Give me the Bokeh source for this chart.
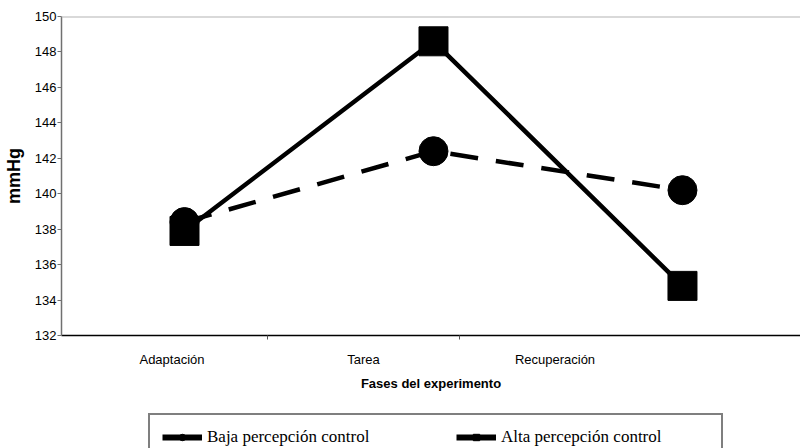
from bokeh.plotting import figure
from bokeh.layouts import column
from bokeh.models import Range1d, LinearAxis, FixedTicker, Legend, LegendItem, Span
from bokeh.embed import file_html
from bokeh.resources import INLINE

# ---- data ----
phases = ["Adaptación", "Tarea", "Recuperación"]
baja = [138.4, 142.4, 140.2]
alta = [137.9, 148.6, 134.8]
y_ticks = [132, 134, 136, 138, 140, 142, 144, 146, 148, 150]
series_labels = ["Baja percepción control", "Alta percepción control"]
x_title = "Fases del experimento"
y_title = "mmHg"

idx = list(range(len(phases)))

p = figure(width=800, height=410, output_backend="svg", toolbar_location=None,
           x_range=Range1d(-0.494, 2.474), y_range=Range1d(y_ticks[0], y_ticks[-1]),
           x_axis_location=None,
           min_border_left=61, min_border_right=0, min_border_top=16, min_border_bottom=75)
p.grid.visible = False
p.outline_line_color = None
p.background_fill_color = "white"
p.border_fill_color = "white"

# y axis
ya = p.yaxis[0]
ya.ticker = FixedTicker(ticks=y_ticks)
ya.axis_line_color = "#707070"
ya.axis_line_width = 1.5
ya.major_tick_out = 4
ya.major_tick_in = 0
ya.major_tick_line_color = "#707070"
ya.minor_tick_out = 0
ya.minor_tick_in = 0
ya.major_label_standoff = 1
ya.major_label_text_font = "Liberation Sans"
ya.major_label_text_font_size = "13px"
ya.major_label_text_color = "black"
ya.axis_label = y_title
ya.axis_label_text_font = "Liberation Sans"
ya.axis_label_text_font_style = "bold"
ya.axis_label_text_font_size = "18px"
ya.axis_label_text_color = "black"
ya.axis_label_standoff = 8

# top border line at max value
p.add_layout(Span(location=y_ticks[-1], dimension="width", line_color="#b4b4b4", line_width=2))

# x category axis (labels placed on their own scale)
p.extra_x_ranges = {"lab": Range1d(-0.577, 3.282)}
xa = LinearAxis(x_range_name="lab",
                ticker=FixedTicker(ticks=idx, minor_ticks=[i + 0.5 for i in idx[:-1]]),
                major_label_overrides={i: n for i, n in zip(idx, phases)})
xa.axis_line_color = "black"
xa.axis_line_width = 1.5
xa.major_tick_out = 0
xa.major_tick_in = 0
xa.minor_tick_out = 4
xa.minor_tick_in = 0
xa.minor_tick_line_color = "#555555"
xa.major_label_standoff = 12
xa.major_label_text_font = "Liberation Sans"
xa.major_label_text_font_size = "13px"
xa.major_label_text_color = "black"
xa.axis_label = x_title
xa.axis_label_text_font = "Liberation Sans"
xa.axis_label_text_font_style = "bold"
xa.axis_label_text_font_size = "13px"
xa.axis_label_text_color = "black"
xa.axis_label_standoff = 6
p.add_layout(xa, "below")

# series
p.line(idx, baja, line_width=4.5, line_dash="28 18", color="black")
p.scatter(idx, baja, marker="circle", size=29, color="black")
p.line(idx, alta, line_width=4.5, color="black")
p.scatter(idx, alta, marker="square", size=29, color="black")

# ---- legend strip below the chart ----
pl = figure(width=800, height=38, output_backend="svg", toolbar_location=None,
            x_range=Range1d(0, 1), y_range=Range1d(0, 1),
            x_axis_location=None, y_axis_location=None,
            min_border_left=0, min_border_right=0, min_border_top=0, min_border_bottom=0)
pl.grid.visible = False
pl.outline_line_color = None
pl.background_fill_color = "white"
pl.border_fill_color = "white"

# legend swatches: first point of each series (lies outside this strip's ranges)
lb_line = pl.line(x=idx[:1], y=baja[:1], line_width=6, color="black")
lb_mark = pl.scatter(x=idx[:1], y=baja[:1], marker="circle", size=15, color="black")
la_line = pl.line(x=idx[:1], y=alta[:1], line_width=6, color="black")
la_mark = pl.scatter(x=idx[:1], y=alta[:1], marker="square", size=15, color="black")

legend = Legend(items=[LegendItem(label=series_labels[0], renderers=[lb_line, lb_mark]),
                       LegendItem(label=series_labels[1], renderers=[la_line, la_mark])],
                orientation="horizontal", location=(87, -13), margin=0,
                padding=12, spacing=41, glyph_width=40, glyph_height=16,
                label_height=16, label_width=208, label_standoff=5,
                label_text_font="Liberation Serif", label_text_font_size="17px",
                label_text_color="black",
                border_line_color="black", border_line_width=2,
                background_fill_color="white", background_fill_alpha=1)
pl.add_layout(legend, "center")

open("out.html", "w").write(file_html(column(p, pl, spacing=0), INLINE))
